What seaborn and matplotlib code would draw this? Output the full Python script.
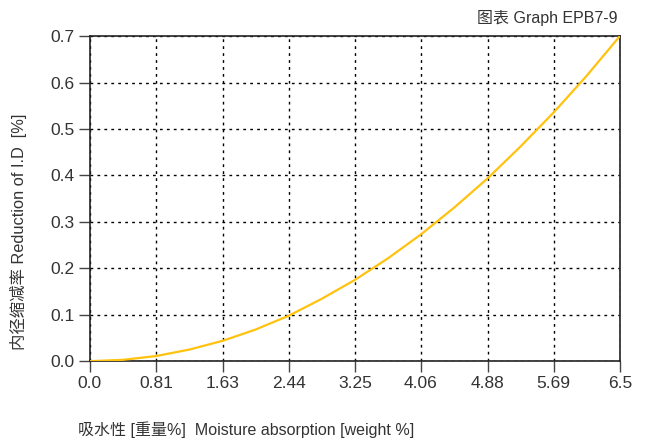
"""
Graph EPB7-9 : réduction du diamètre intérieur selon l'absorption d'humidité
"""

import numpy as np
import pandas as pd
import matplotlib
matplotlib.use("Agg")
import matplotlib.pyplot as plt
import seaborn as sns

# Données
moisture = [0.0, 0.41, 0.81, 1.22, 1.63, 2.03, 2.44, 2.84, 3.25,
            3.66, 4.06, 4.47, 4.88, 5.28, 5.69, 6.09, 6.5]
reduction = [0.0, 0.003, 0.011, 0.025, 0.044, 0.068, 0.098, 0.134, 0.175,
             0.222, 0.273, 0.331, 0.394, 0.462, 0.536, 0.614, 0.70]

x_ticks = [0.0, 0.81, 1.63, 2.44, 3.25, 4.06, 4.88, 5.69, 6.5]
x_tick_labels = ["0.0", "0.81", "1.63", "2.44", "3.25", "4.06", "4.88", "5.69", "6.5"]
y_ticks = [0.0, 0.1, 0.2, 0.3, 0.4, 0.5, 0.6, 0.7]
y_tick_labels = ["0.0", "0.1", "0.2", "0.3", "0.4", "0.5", "0.6", "0.7"]

title = "图表 Graph EPB7-9"
x_label = "吸水性 [重量%]  Moisture absorption [weight %]"
y_label = "内径缩减率 Reduction of I.D  [%]"

df = pd.DataFrame({"moisture": moisture, "reduction": reduction})

sns.set_style("ticks")
plt.rcParams["font.family"] = ["Liberation Sans", "Noto Sans CJK SC", "DejaVu Sans"]
text_color = "#333333"

fig = plt.figure(figsize=(6.47, 4.41), dpi=100)
ax = fig.add_axes([0.139, 0.181, 0.819, 0.737])

sns.lineplot(data=df, x="moisture", y="reduction", ax=ax,
             color="#FFC20E", linewidth=1.6, zorder=3)

ax.set_xlim(0, 6.5)
ax.set_ylim(0, 0.7)
ax.set_xticks(x_ticks)
ax.set_xticklabels(x_tick_labels)
ax.set_yticks(y_ticks)
ax.set_yticklabels(y_tick_labels)
ax.set_xlabel("")
ax.set_ylabel("")

# grille pointillée noire
ax.grid(True, color="black", linestyle=(0, (2, 3)), linewidth=1.0)
for side in ["top", "right", "bottom", "left"]:
    ax.spines[side].set_visible(True)
    ax.spines[side].set_color("#222222")
    ax.spines[side].set_linewidth(1.2)

ax.tick_params(axis="both", direction="out", length=8, width=1.0,
               color="#444444", labelsize=12.5, labelcolor=text_color, pad=3)

fig.text(0.955, 0.96, title, ha="right", va="center", fontsize=11.5, color=text_color)
fig.text(0.12, 0.025, x_label, ha="left", va="center", fontsize=11.5, color=text_color)
fig.text(0.028, 0.475, y_label, ha="center", va="center", rotation=90,
         fontsize=11.8, color=text_color)

fig.savefig("out.png", dpi=100)
